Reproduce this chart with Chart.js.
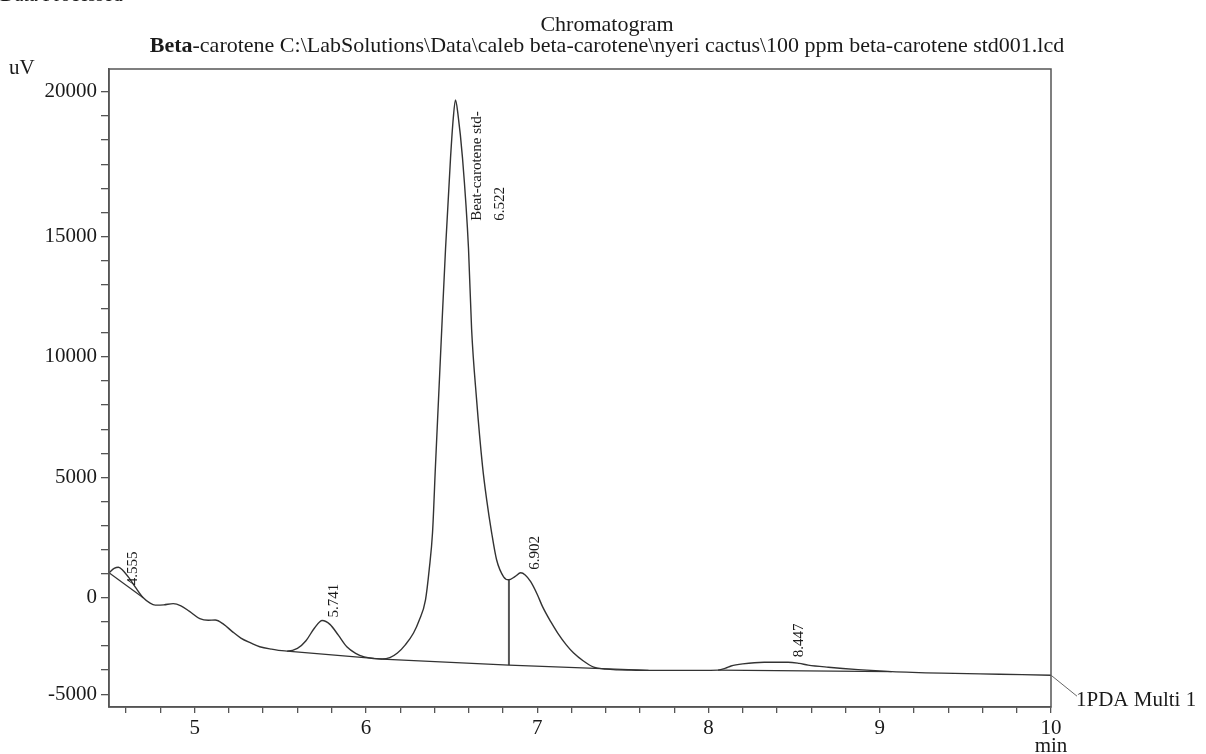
<!DOCTYPE html>
<html>
<head>
<meta charset="utf-8">
<script src="https://cdn.jsdelivr.net/npm/chart.js@4.4.1/dist/chart.umd.min.js"></script>
<style>
  html, body { margin: 0; padding: 0; background: #fff; }
  #wrap { width: 1206px; height: 754px; position: relative; }
</style>
</head>
<body>
<div id="wrap"><canvas id="chart" width="1206" height="754"></canvas></div>
<script>
// 🔹 TRACE (retention time in min, signal in uV)
const times = [
  4.50, 4.53, 4.555, 4.58, 4.62, 4.66, 4.70, 4.74, 4.77, 4.82, 4.875, 4.92, 4.97,
  5.03, 5.08, 5.12, 5.17, 5.22, 5.27, 5.33, 5.38, 5.45, 5.54, 5.60, 5.65, 5.70,
  5.745, 5.79, 5.84, 5.89, 5.94, 5.99, 6.05, 6.095, 6.14, 6.184, 6.23, 6.278,
  6.31, 6.348, 6.37, 6.389, 6.406, 6.424, 6.445, 6.465, 6.494, 6.51, 6.523,
  6.537, 6.564, 6.599, 6.617, 6.646, 6.681, 6.705, 6.734, 6.763, 6.804, 6.833,
  6.87, 6.904, 6.93, 6.962, 7.00, 7.032, 7.08, 7.12, 7.17, 7.213, 7.27, 7.33,
  7.40, 7.47, 7.55, 7.65, 7.80, 7.95, 8.056, 8.10, 8.132, 8.20, 8.325, 8.465,
  8.53, 8.582, 8.70, 8.874, 9.07, 9.36, 9.70, 10.0
];
const signal = [
  1040, 1220, 1270, 1150, 800, 380, 0, -220, -300, -290, -240, -330, -560,
  -860, -930, -920, -1100, -1400, -1670, -1880, -2030, -2130, -2210, -2100, -1780, -1250,
  -940, -1100, -1560, -2040, -2300, -2450, -2520, -2540, -2480, -2290, -1950, -1460,
  -950, -80, 1200, 2710, 5460, 8250, 11500, 14500, 18250, 19900, 20670,
  20100, 18250, 14500, 11170, 8250, 5460, 4080, 2710, 1580, 875, 750,
  880, 1040, 950, 670, 150, -375, -1000, -1460, -1950, -2290, -2620, -2875,
  -2960, -2990, -3000, -3010, -3010, -3010, -3000, -2920, -2830, -2740, -2670, -2670,
  -2720, -2790, -2880, -2980, -3060, -3125, -3170, -3210
];

// 🔹 INTEGRATION BASELINES (straight segments)
const baselineTimes = [[4.50, 4.70], [5.54, 6.095], [6.095, 6.835, 7.65], [8.056, 9.07]];
const baselineValues = [[1040, 0], [-2210, -2540], [-2540, -2790, -3010], [-3000, -3060]];

// 🔹 DROP LINE between 6.522 and 6.902
const dropTimes = [6.835, 6.835];
const dropValues = [-2790, 750];

// 🔹 PEAKS
const peakTimes = [4.555, 5.741, 6.522, 6.902, 8.447];
const peakNames = ["", "", "Beat-carotene std-", "", ""];

// 🔹 TICKS
const xTickValues = [5, 6, 7, 8, 9, 10];
const xTickLabels = ["5", "6", "7", "8", "9", "10"];
const yTickValues = [-4000, 0, 5000, 10000, 15000, 21000];
const yTickLabels = ["-5000", "0", "5000", "10000", "15000", "20000"];

const SERIF = "'Liberation Serif', 'Times New Roman', serif";
const INK = "#1a1a1a";
const LINE = "#333";
const AXIS = "#555";

function toPoints(ts, vs) {
  return ts.map((t, i) => ({ x: t, y: vs[i] }));
}

function nearestSignal(t) {
  let best = 0;
  times.forEach((tt, i) => {
    if (Math.abs(tt - t) < Math.abs(times[best] - t)) best = i;
  });
  return signal[best];
}

const datasets = [{
  data: toPoints(times, signal),
  borderColor: LINE,
  borderWidth: 1.4,
  pointRadius: 0,
  cubicInterpolationMode: "monotone",
  fill: false
}];

baselineTimes.forEach((ts, i) => {
  datasets.push({
    data: toPoints(ts, baselineValues[i]),
    borderColor: LINE,
    borderWidth: 1.2,
    pointRadius: 0,
    tension: 0,
    fill: false
  });
});

datasets.push({
  data: toPoints(dropTimes, dropValues),
  borderColor: "#555",
  borderWidth: 2,
  pointRadius: 0,
  tension: 0,
  fill: false
});

// label offsets from the apex, in px
const labelOffsets = [[15, 18], [13, -3], [22, 121], [15, -3], [14, -5]];

const decor = {
  id: "decor",
  afterDraw(chart) {
    const { ctx, chartArea: a, scales } = chart;
    const xs = scales.x, ys = scales.y;
    ctx.save();

    // frame
    ctx.strokeStyle = AXIS;
    ctx.lineWidth = 1.5;
    ctx.strokeRect(a.left, a.top, a.right - a.left, a.bottom - a.top);

    ctx.fillStyle = INK;
    ctx.textBaseline = "alphabetic";

    // cut-off header line
    ctx.font = "20px " + SERIF;
    ctx.textAlign = "left";
    ctx.fillText("Data Processed", 0, 1);

    // titles
    ctx.font = "22px " + SERIF;
    ctx.textAlign = "center";
    ctx.fillText("Chromatogram", 607, 31);

    const bold = "Beta";
    const rest = "-carotene C:\\LabSolutions\\Data\\caleb beta-carotene\\nyeri cactus\\100 ppm beta-carotene std001.lcd";
    ctx.font = "bold 22px " + SERIF;
    const wb = ctx.measureText(bold).width;
    ctx.font = "22px " + SERIF;
    const wr = ctx.measureText(rest).width;
    const x0 = 607 - (wb + wr) / 2;
    ctx.textAlign = "left";
    ctx.font = "bold 22px " + SERIF;
    ctx.fillText(bold, x0, 52);
    ctx.font = "22px " + SERIF;
    ctx.fillText(rest, x0 + wb, 52);

    // axis units
    ctx.font = "21px " + SERIF;
    ctx.fillText("uV", 9, 74);
    ctx.textAlign = "center";
    ctx.fillText("min", xs.getPixelForValue(10), 752);

    // detector label
    const ex = xs.getPixelForValue(10), ey = ys.getPixelForValue(signal[signal.length - 1]);
    ctx.strokeStyle = "#666";
    ctx.lineWidth = 1;
    ctx.beginPath();
    ctx.moveTo(ex, ey);
    ctx.lineTo(ex + 26, ey + 21);
    ctx.stroke();
    ctx.textAlign = "left";
    ctx.textBaseline = "middle";
    ctx.fillText("1PDA Multi 1", ex + 25, ey + 25);

    // peak labels, rotated
    ctx.font = "15px " + SERIF;
    peakTimes.forEach((t, i) => {
      const px = xs.getPixelForValue(t) + labelOffsets[i][0];
      const py = ys.getPixelForValue(nearestSignal(t)) + labelOffsets[i][1];
      const lines = peakNames[i] ? [peakNames[i], t.toFixed(3)] : [t.toFixed(3)];
      lines.forEach((txt, k) => {
        ctx.save();
        ctx.translate(px + k * 23, py);
        ctx.rotate(-Math.PI / 2);
        ctx.textAlign = "left";
        ctx.textBaseline = "middle";
        ctx.fillText(txt, 0, 0);
        ctx.restore();
      });
    });

    ctx.restore();
  }
};

new Chart(document.getElementById("chart"), {
  type: "line",
  data: { datasets },
  options: {
    responsive: false,
    animation: false,
    layout: { padding: { top: 69, right: 155, left: 0, bottom: 0 } },
    plugins: { legend: { display: false }, tooltip: { enabled: false } },
    scales: {
      x: {
        type: "linear",
        min: 4.5,
        max: 10,
        afterBuildTicks(scale) {
          const ticks = [];
          for (let k = 23; k <= 50; k++) ticks.push({ value: k / 5 });
          scale.ticks = ticks;
        },
        afterFit(scale) { scale.height = 47; },
        ticks: {
          autoSkip: false,
          maxRotation: 0,
          padding: 3,
          color: INK,
          font: { family: SERIF, size: 21 },
          callback(v) {
            const i = xTickValues.findIndex(t => Math.abs(t - v) < 1e-6);
            return i >= 0 ? xTickLabels[i] : "";
          }
        },
        grid: { drawOnChartArea: false, tickLength: 6, color: AXIS, lineWidth: 1.3 },
        border: { display: true, color: AXIS, width: 1.5 }
      },
      y: {
        type: "linear",
        min: -4530,
        max: 21950,
        afterBuildTicks(scale) {
          const ticks = [];
          for (let v = -4000; v <= 21000; v += 1000) ticks.push({ value: v });
          scale.ticks = ticks;
        },
        afterFit(scale) { scale.width = 109; },
        ticks: {
          autoSkip: false,
          padding: 4,
          color: INK,
          font: { family: SERIF, size: 21 },
          callback(v) {
            const i = yTickValues.indexOf(v);
            return i >= 0 ? yTickLabels[i] : "";
          }
        },
        grid: { drawOnChartArea: false, tickLength: 8, color: AXIS, lineWidth: 1.3 },
        border: { display: true, color: AXIS, width: 1.5 }
      }
    }
  },
  plugins: [decor]
});
</script>
</body>
</html>
